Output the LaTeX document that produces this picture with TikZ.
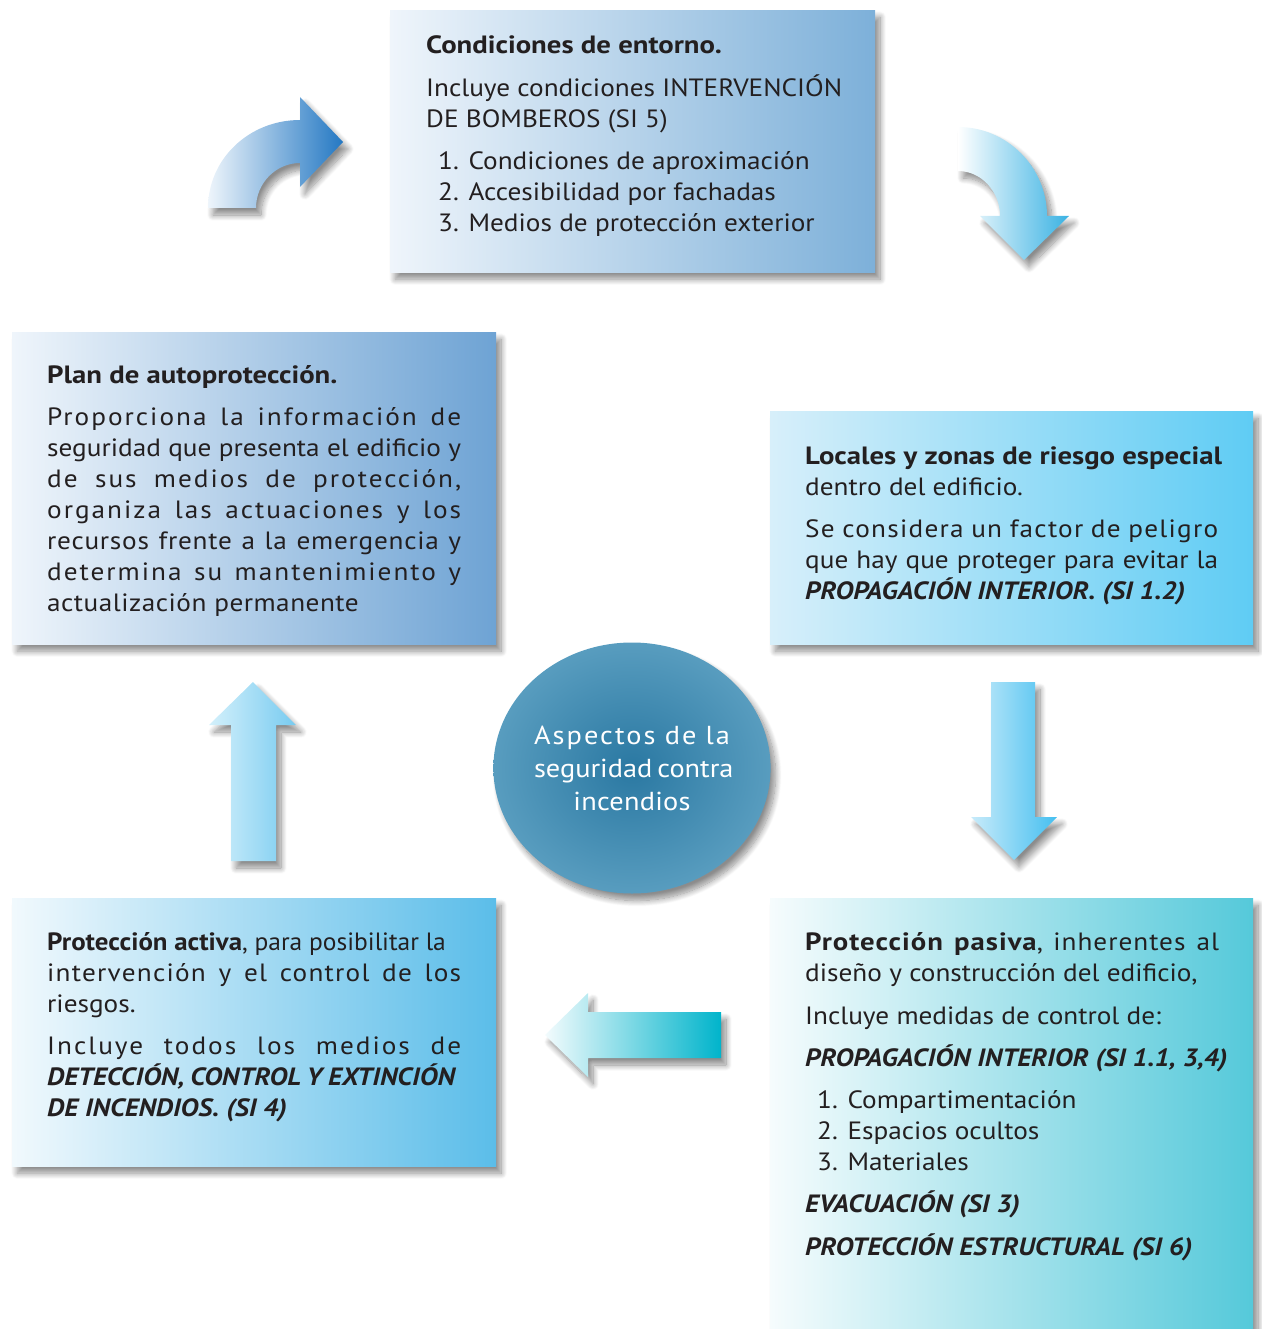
\documentclass[tikz,border=0pt]{standalone}
\usepackage{graphicx}
\usepackage{fontspec}
\setmainfont{PT Sans}[
  UprightFeatures={FakeStretch=1.09},
  ItalicFeatures={FakeStretch=1.09},
  BoldFeatures={FakeStretch=1.15},
  BoldItalicFeatures={FakeStretch=1.10}]
\usetikzlibrary{shadows.blur,shapes.geometric}
\definecolor{ink}{HTML}{231F20}
\definecolor{entL}{HTML}{EFF5FB}
\definecolor{entR}{HTML}{7DB0D9}
\definecolor{planL}{HTML}{EFF5FB}
\definecolor{planR}{HTML}{6EA3D4}
\definecolor{locL}{HTML}{D7EFFA}
\definecolor{locR}{HTML}{5FCCF4}
\definecolor{actL}{HTML}{F1F9FD}
\definecolor{actR}{HTML}{5BBDE9}
\definecolor{pasL}{HTML}{F6FCFD}
\definecolor{pasR}{HTML}{55C9DA}
\definecolor{cirIn}{HTML}{2A78A2}
\definecolor{cirMid}{HTML}{5A9EC0}
\definecolor{cirOut}{HTML}{A8D2E2}
\definecolor{aoneL}{HTML}{EEF5FB}
\definecolor{aoneR}{HTML}{2478C3}
\definecolor{atwoL}{HTML}{FFFFFF}
\definecolor{atwoR}{HTML}{3AB2E3}
\definecolor{adownL}{HTML}{C8EBFA}
\definecolor{adownR}{HTML}{45BFF0}
\definecolor{aupL}{HTML}{D3F0FB}
\definecolor{aupR}{HTML}{78CBF0}
\definecolor{aleftL}{HTML}{F3FBFD}
\definecolor{aleftR}{HTML}{00B4CB}
\pgfdeclareradialshading{circshade}{\pgfpoint{0bp}{0bp}}{color(0bp)=(cirIn); color(26bp)=(cirMid); color(50bp)=(cirOut)}
\newcommand{\jline}[2][414pt]{\makebox[#1][s]{#2}}
\newcommand{\lsp}[2][6]{{\addfontfeatures{LetterSpace=#1}#2}}
\tikzset{
  shad/.style={blur shadow={shadow xshift=5pt, shadow yshift=-7pt, shadow blur radius=6pt, shadow blur steps=12, shadow opacity=45}},
  box/.style={rectangle, inner sep=0pt, anchor=north west, shad},
  txt/.style={anchor=base west, inner sep=0pt, text=ink},
}
\begin{document}
\begin{tikzpicture}[x=1pt,y=-1pt, font=\fontsize{25}{31}\selectfont]
\useasboundingbox (0,0) rectangle (1261,1329);
\lineskiplimit=-60pt
% boxes
\node[box, minimum width=485pt, minimum height=262pt, left color=entL, right color=entR] (entorno) at (390,10) {};
\node[box, minimum width=484pt, minimum height=312pt, left color=planL, right color=planR] (plan) at (12,332) {};
\node[box, minimum width=483pt, minimum height=233pt, left color=locL, right color=locR] (locales) at (770,411) {};
\node[box, minimum width=484pt, minimum height=268pt, left color=actL, right color=actR] (activa) at (12,898) {};
\node[box, minimum width=483pt, minimum height=450pt, left color=pasL, right color=pasR] (pasiva) at (770,898) {};
% centre
\node[ellipse, minimum width=271pt, minimum height=251pt, inner sep=0pt, shading=circshade, shad,
      text=white, align=center, font=\fontsize{26}{33}\selectfont] (centro) at (632,768)
  {\jline[196pt]{\lsp[8]{Aspectos de la}}\\ \jline[196pt]{seguridad contra}\\ \lsp[1]{incendios}};
% arrows
\path[shad, left color=aoneL, right color=aoneR]
  (208,208) .. controls (208,159) and (249,120) .. (300,120) -- (300,97) -- (343,142) -- (300,187) -- (300,163)
  .. controls (276,163) and (256,183) .. (256,208) -- cycle;
\path[shad, left color=atwoL, right color=atwoR]
  (958,127) .. controls (1007,127) and (1047,167) .. (1047,216) -- (1069,216) -- (1024,260) -- (980,216) -- (1000,216)
  .. controls (1000,191) and (981,171) .. (958,171) -- cycle;
\path[shad, left color=adownL, right color=adownR]
  (991,682) -- (1035,682) -- (1035,817) -- (1057,817) -- (1014,860) -- (971,817) -- (991,817) -- cycle;
\path[shad, left color=aupL, right color=aupR]
  (231,861) -- (231,725) -- (209,725) -- (253,682) -- (296,725) -- (276,725) -- (276,861) -- cycle;
\path[shad, left color=aleftL, right color=aleftR]
  (721,1012) -- (588,1012) -- (588,993) -- (545,1035) -- (588,1077) -- (588,1058) -- (721,1058) -- cycle;
% texts
\node[txt] (entornoText) at (426,54) {\parbox[t]{440pt}{\raggedright
  \textbf{Condiciones de entorno.}\\[12pt]
  Incluye condiciones INTERVENCIÓN\\
  DE BOMBEROS (SI 5)\\[11pt]
  \hspace*{12pt}1. Condiciones de aproximación\\
  \hspace*{12pt}2. Accesibilidad por fachadas\\
  \hspace*{12pt}3. Medios de protección exterior}};
\node[txt] (planText) at (47,383) {\parbox[t]{440pt}{\raggedright
  \textbf{Plan de autoprotección.}\\[11pt]
  \jline{\lsp[8]{Proporciona la información de}}\\
  \jline{seguridad que presenta el edificio y}\\
  \jline{\lsp[8]{de sus medios de protección,}}\\
  \jline{\lsp[8]{organiza las actuaciones y los}}\\
  \jline{\lsp[3]{recursos frente a la emergencia y}}\\
  \jline{\lsp[8]{determina su mantenimiento y}}\\
  \lsp[2]{actualización permanente}}};
\node[txt] (localesText) at (805,464) {\parbox[t]{440pt}{\raggedright
  \textbf{Locales y zonas de riesgo especial}\\
  dentro del edificio.\\[11pt]
  \jline[413pt]{\lsp[5]{Se considera un factor de peligro}}\\
  \jline[413pt]{que hay que proteger para evitar la}\\
  \textbf{\textit{PROPAGACIÓN INTERIOR. (SI 1.2)}}}};
\node[txt] (activaText) at (47,950) {\parbox[t]{440pt}{\raggedright
  \scalebox{0.935}[1]{\textbf{Protección activa}, para posibilitar la}\\
  \jline{\lsp[5]{intervención y el control de los}}\\
  riesgos.\\[11pt]
  \jline{\lsp[8]{Incluye todos los medios de}}\\
  \jline[409pt]{\textbf{\textit{DETECCIÓN, CONTROL Y EXTINCIÓN}}}\\
  \textbf{\textit{DE INCENDIOS. (SI 4)}}}};
\node[txt] (pasivaText) at (805,950) {\parbox[t]{440pt}{\raggedright
  \jline{\textbf{\lsp[4]{Protección pasiva}}, \lsp[4]{inherentes al}}\\
  diseño y construcción del edificio,\\[12pt]
  Incluye medidas de control de:\\[11pt]
  \textbf{\textit{PROPAGACIÓN INTERIOR (SI 1.1, 3,4)}}\\[11pt]
  \hspace*{12pt}1. Compartimentación\\
  \hspace*{12pt}2. Espacios ocultos\\
  \hspace*{12pt}3. Materiales\\[11pt]
  \textbf{\textit{EVACUACIÓN (SI 3)}}\\[12pt]
  \textbf{\textit{PROTECCIÓN ESTRUCTURAL (SI 6)}}}};
\end{tikzpicture}
\end{document}
